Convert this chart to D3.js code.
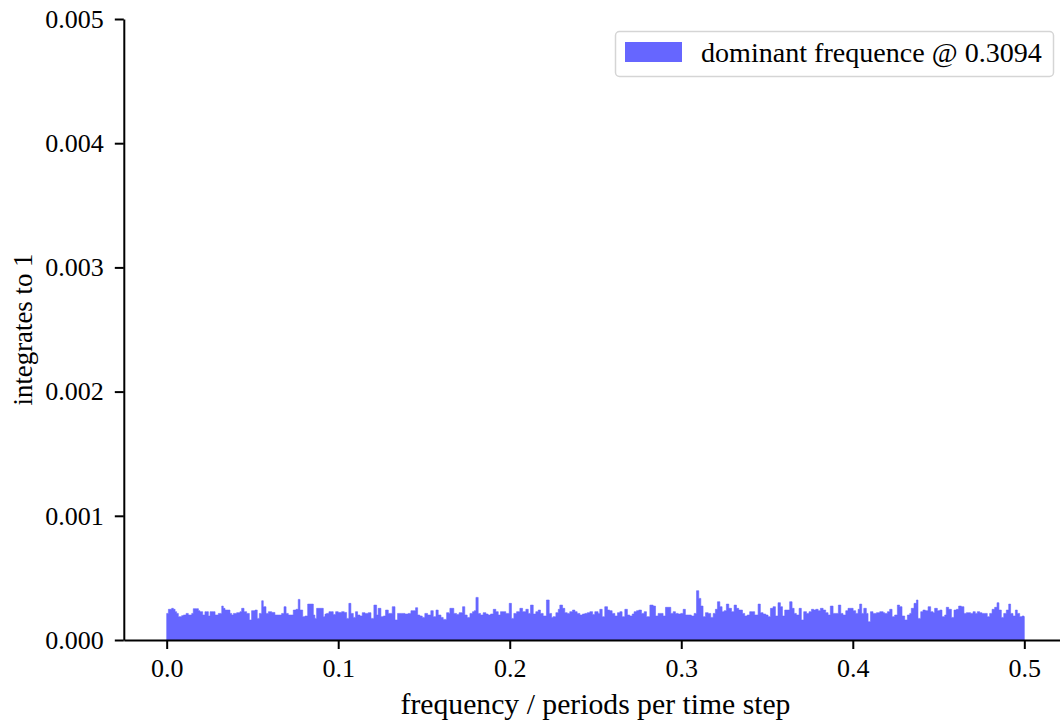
<!DOCTYPE html>
<html>
<head>
<meta charset="utf-8">
<script src="https://cdn.jsdelivr.net/npm/d3@7"></script>
<style>
  html, body { margin: 0; padding: 0; background: #ffffff; }
  svg { display: block; }
  text { font-family: "Liberation Serif", "DejaVu Serif", serif; fill: #000; }
</style>
</head>
<body>
<svg id="chart" width="1060" height="720"></svg>
<script>
// ---- data ----
const frequencies = [
  0.0000,0.0010,0.0029,0.0039,0.0049,0.0058,0.0068,0.0078,0.0087,0.0097,0.0113,0.0126,0.0146,0.0155,0.0175,0.0185,0.0194,0.0210,0.0223,0.0233,
  0.0243,0.0253,0.0272,0.0282,0.0301,0.0321,0.0330,0.0340,0.0359,0.0369,0.0379,0.0389,0.0408,0.0427,0.0437,0.0451,0.0466,0.0482,0.0495,0.0515,
  0.0528,0.0540,0.0554,0.0563,0.0579,0.0593,0.0612,0.0631,0.0651,0.0670,0.0684,0.0696,0.0709,0.0729,0.0738,0.0754,0.0767,0.0777,0.0793,0.0806,
  0.0822,0.0855,0.0864,0.0874,0.0903,0.0913,0.0923,0.0932,0.0946,0.0961,0.0971,0.0985,0.1000,0.1020,0.1035,0.1049,0.1062,0.1074,0.1088,0.1101,
  0.1113,0.1127,0.1140,0.1156,0.1175,0.1191,0.1208,0.1224,0.1233,0.1249,0.1263,0.1276,0.1292,0.1315,0.1331,0.1346,0.1369,0.1389,0.1408,0.1424,
  0.1437,0.1451,0.1463,0.1476,0.1490,0.1505,0.1521,0.1540,0.1554,0.1570,0.1583,0.1599,0.1612,0.1632,0.1645,
  0.1651,0.1674,0.1690,0.1705,0.1725,0.1738,0.1752,0.1768,0.1783,0.1793,0.1803,0.1816,0.1830,0.1845,0.1861,0.1874,0.1888,0.1904,0.1919,0.1933,
  0.1946,0.1962,0.1977,0.1997,0.2010,0.2024,0.2040,0.2059,0.2075,0.2094,0.2108,0.2121,0.2137,0.2152,0.2166,0.2179,0.2195,0.2214,0.2230,0.2244,
  0.2253,0.2269,0.2283,0.2292,0.2308,0.2321,0.2335,0.2350,0.2366,0.2380,0.2393,0.2409,0.2424,0.2438,0.2452,0.2467,0.2483,
  0.2496,0.2515,0.2525,0.2539,0.2554,0.2570,0.2583,0.2597,0.2613,0.2628,0.2642,0.2655,0.2671,0.2686,0.2700,0.2714,0.2725,0.2739,0.2752,0.2768,
  0.2784,0.2797,0.2817,0.2836,0.2850,0.2865,0.2881,0.2894,0.2908,0.2923,0.2939,0.2953,0.2966,0.2982,0.2997,0.3011,0.3024,0.3040,0.3059,0.3075,
  0.3089,0.3102,0.3114,0.3127,0.3141,0.3157,0.3172,0.3186,0.3199,0.3211,0.3225,0.3238,0.3250,0.3263,0.3277,0.3293,0.3308,0.3322,0.3335,
  0.3341,0.3357,0.3370,0.3384,0.3399,0.3415,0.3428,0.3448,0.3461,0.3477,0.3493,0.3506,0.3520,0.3535,0.3549,0.3564,0.3578,0.3590,0.3603,0.3617,
  0.3632,0.3646,0.3658,0.3671,0.3687,0.3700,0.3714,0.3730,0.3745,0.3759,0.3772,0.3784,0.3798,0.3811,0.3827,0.3842,0.3856,0.3869,0.3885,0.3901,
  0.3916,0.3930,0.3943,0.3959,0.3972,0.3986,0.4002,0.4017,0.4031,0.4040,0.4052,0.4064,0.4079,0.4089,0.4103,0.4118,0.4138,0.4157,0.4177,
  0.4186,0.4202,0.4215,0.4229,0.4244,0.4260,0.4273,0.4287,0.4303,0.4318,0.4332,0.4341,0.4357,0.4371,0.4380,0.4396,0.4409,0.4423,0.4439,0.4454,
  0.4468,0.4477,0.4493,0.4507,0.4520,0.4536,0.4545,0.4559,0.4575,0.4590,0.4604,0.4617,0.4633,0.4648,0.4662,0.4676,0.4687,0.4701,0.4714,0.4726,
  0.4740,0.4753,0.4769,0.4784,0.4798,0.4812,0.4827,0.4841,0.4852,0.4866,0.4880,0.4895,0.4909,0.4920,0.4934,0.4948,0.4959,0.4973,0.4987,0.4998,
  0.5000
];

// normalised spectral density, in units of 1e-4
const densityE4 = [
  2.14,2.47,2.55,2.47,2.28,2.14,1.88,1.88,1.96,2.01,2.14,2.01,2.14,2.52,2.52,2.36,2.28,2.01,2.28,2.28,
  1.93,2.28,2.28,2.01,2.14,2.73,2.55,2.41,2.41,2.14,2.01,2.14,2.20,2.28,2.55,2.28,2.14,1.61,2.36,2.41,
  1.74,2.14,3.16,2.68,2.14,2.28,2.22,2.01,2.01,2.14,2.68,2.14,2.01,2.01,2.41,2.47,3.27,2.41,1.88,1.93,
  2.89,2.01,1.74,2.55,2.55,1.88,2.09,2.14,2.28,2.28,2.06,2.28,2.22,2.28,2.22,1.74,2.95,2.14,1.82,2.28,
  2.01,1.93,2.20,2.14,2.20,1.74,2.81,2.01,2.55,1.88,1.93,2.41,2.14,2.68,1.61,2.14,2.14,2.09,2.14,2.36,
  2.36,2.60,2.01,1.93,1.82,2.14,2.01,2.36,1.88,2.41,2.01,1.82,1.66,2.20,2.14,
  2.55,2.14,2.06,2.20,2.68,2.01,1.82,2.14,2.28,2.36,3.43,2.14,2.01,2.20,2.09,2.01,2.09,2.47,2.28,2.01,
  2.28,2.28,2.14,2.95,1.74,2.14,2.28,2.55,2.28,2.47,2.14,2.81,2.09,2.28,2.41,2.14,1.93,3.22,2.14,1.82,
  1.88,2.20,2.47,2.81,2.55,2.20,2.14,2.28,2.41,2.28,2.14,2.01,2.09,2.14,2.20,2.28,2.06,
  2.28,2.14,2.47,1.88,2.68,2.41,2.36,2.14,1.93,2.20,2.28,1.88,2.47,2.01,1.93,2.09,2.28,2.36,2.41,2.14,
  2.28,1.88,2.81,2.73,1.93,2.14,2.14,1.93,2.63,2.63,2.14,2.28,2.14,2.09,2.14,2.47,2.01,2.01,1.93,2.14,
  3.97,3.35,2.73,1.88,2.20,2.14,1.82,2.14,2.47,3.08,2.68,2.28,2.36,2.89,2.55,2.28,2.81,2.55,2.41,
  2.41,2.14,1.93,2.01,2.28,2.28,2.01,2.89,2.20,2.09,2.01,1.88,2.55,2.68,1.93,3.00,2.68,1.93,2.41,2.41,
  3.08,2.55,2.14,2.01,2.55,1.61,2.28,2.14,2.28,2.47,2.41,2.47,2.36,2.55,2.41,2.20,2.01,2.73,2.14,2.14,
  2.81,2.14,2.01,2.36,2.55,2.55,2.36,2.14,2.47,2.89,2.14,2.55,2.14,1.47,2.28,2.14,2.20,2.28,2.20,
  2.14,2.28,2.47,1.88,2.01,2.81,2.68,1.93,1.61,2.01,2.14,2.55,2.95,3.22,1.74,2.28,2.41,2.36,2.68,2.28,
  2.20,2.55,2.36,2.41,1.88,2.01,2.63,2.47,1.82,2.41,2.47,2.73,2.68,2.14,2.20,2.20,2.14,2.28,2.14,2.28,
  2.20,2.14,2.14,1.88,2.14,2.47,2.63,3.00,2.41,1.82,2.14,2.41,2.89,2.14,1.93,2.41,2.14,1.88,1.93,1.88,
  1.88
];

const xTicks = [0.0, 0.1, 0.2, 0.3, 0.4, 0.5];
const yTicks = [0.000, 0.001, 0.002, 0.003, 0.004, 0.005];
const legendLabel = "dominant frequence @ 0.3094";
const xLabel = "frequency / periods per time step";
const yLabel = "integrates to 1";

// ---- build ----
const data = frequencies.map((f, i) => ({ f: f, v: densityE4[i] * 1e-4 }));

const svg = d3.select("#chart");
const fill = "#6666ff";

const x = d3.scaleLinear().domain([-0.025, 0.525]).range([123.8, 1067.2]);
const y = d3.scaleLinear().domain([0, 0.005]).range([640, 19]);

// spectrum area
const area = d3.area()
  .x(d => x(d.f))
  .y0(y(0))
  .y1(d => y(d.v))
  .curve(d3.curveStepAfter);

svg.append("path")
  .datum(data)
  .attr("d", area)
  .attr("fill", fill)
  .attr("stroke", fill)
  .attr("stroke-width", 0.6);

// axes
const tickFont = 26;
const xAxis = d3.axisBottom(x)
  .tickValues(xTicks)
  .tickFormat(d3.format(".1f"))
  .tickSize(9)
  .tickSizeOuter(0)
  .tickPadding(9.5);
const yAxis = d3.axisLeft(y)
  .tickValues(yTicks)
  .tickFormat(d3.format(".3f"))
  .tickSize(9)
  .tickSizeOuter(0)
  .tickPadding(11);

const gx = svg.append("g").attr("transform", `translate(0,${y(0)})`).call(xAxis);
const gy = svg.append("g").attr("transform", `translate(${x(-0.025)},0)`).call(yAxis);

[gx, gy].forEach(g => {
  g.select(".domain").attr("stroke", "#000").attr("stroke-width", 2);
  g.selectAll(".tick line").attr("stroke", "#000").attr("stroke-width", 2);
  g.selectAll(".tick text")
    .attr("font-family", "'Liberation Serif', 'DejaVu Serif', serif")
    .attr("font-size", tickFont)
    .attr("fill", "#000");
});

// helper: size text to a target width
function fitText(sel, target, base) {
  sel.attr("font-size", base);
  const len = sel.node().getComputedTextLength();
  if (len > 0) sel.attr("font-size", base * target / len);
  return sel;
}

// axis labels
const xl = svg.append("text")
  .attr("x", (x(-0.025) + x(0.525)) / 2)
  .attr("y", 714)
  .attr("text-anchor", "middle")
  .text(xLabel);
fitText(xl, 390, 26);

const yl = svg.append("text")
  .attr("transform", `translate(31.5,${(y(0) + y(0.005)) / 2}) rotate(-90)`)
  .attr("text-anchor", "middle")
  .text(yLabel);
fitText(yl, 152, 26);

// legend
const lg = svg.append("g");
lg.append("rect")
  .attr("x", 615.5).attr("y", 31.5)
  .attr("width", 438).attr("height", 45)
  .attr("rx", 4).attr("ry", 4)
  .attr("fill", "#ffffff")
  .attr("stroke", "#d5d5d5")
  .attr("stroke-width", 1.5);
lg.append("rect")
  .attr("x", 625).attr("y", 42)
  .attr("width", 57).attr("height", 20)
  .attr("fill", fill);
const lt = lg.append("text")
  .attr("x", 701).attr("y", 62.3)
  .text(legendLabel);
fitText(lt, 341, 26);
</script>
</body>
</html>
